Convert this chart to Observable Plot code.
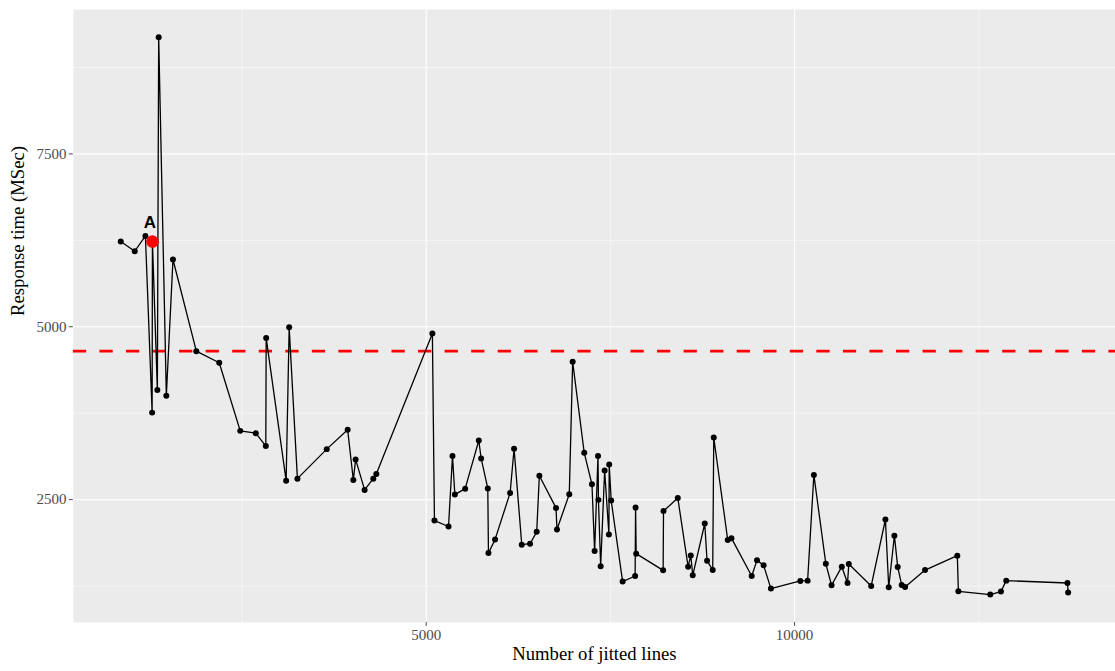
<!DOCTYPE html>
<html><head><meta charset="utf-8">
<script src="https://cdn.jsdelivr.net/npm/d3@7"></script>
<script src="https://cdn.jsdelivr.net/npm/@observablehq/plot@0.6"></script>
<style>
html,body{margin:0;padding:0;background:#fff;overflow:hidden;}
#chart svg{display:block;}
</style></head><body><div id="chart"></div>
<script>
// Number of jitted lines (x) and response time in ms (y)
const jittedLines = [854,1044,1189,1280,1284,1351,1369,1473,1563,1880,2191,2476,2687,2823,2828,3099,3140,3252,3650,3934,4011,4042,4164,4282,4323,5084,5112,5303,5357,5389,5529,5714,5746,5836,5845,5935,6139,6193,6297,6410,6500,6536,6762,6775,6942,6988,7145,7250,7286,7332,7338,7368,7422,7480,7484,7511,7666,7836,7842,7850,8216,8221,8415,8555,8591,8618,8781,8812,8889,8903,9093,9143,9418,9490,9580,9679,10078,10177,10262,10424,10502,10641,10719,10736,11040,11233,11278,11355,11400,11454,11500,11771,12209,12223,12656,12801,12873,13704,13713];
const responseMs = [6232,6092,6314,3758,6232,4085,9186,4003,5973,4647,4479,3494,3461,3274,4839,2774,4993,2803,3230,3509,2784,3081,2640,2803,2870,4902,2197,2111,3130,2572,2658,3355,3095,2662,1726,1924,2597,3235,1848,1862,2034,2846,2380,2068,2577,4493,3177,2721,1755,3130,2496,1535,2922,1996,3009,2486,1314,1395,2385,1718,1477,2334,2524,1530,1693,1405,2154,1617,1481,3398,1914,1942,1395,1621,1549,1213,1323,1328,2857,1573,1261,1530,1294,1568,1251,2212,1232,1977,1524,1265,1236,1481,1689,1174,1127,1170,1328,1294,1156];

// highlighted point
const highlightLabel = ["A"];
const highlightX = [1284];
const highlightY = [6232];

// mean response (dashed line)
const meanResponse = [4647];

// ticks
const xMajorTicks = [5000, 10000];
const xMinorTicks = [2500, 7500, 12500];
const yMajorTicks = [2500, 5000, 7500];
const yMinorTicks = [1250, 3750, 6250, 8750];

const xTitle = "Number of jitted lines";
const yTitle = "Response time (MSec)";

const series = jittedLines.map((x, i) => ({x, y: responseMs[i]}));
const highlight = highlightLabel.map((label, i) => ({label, x: highlightX[i], y: highlightY[i]}));

function padded(values) {
  const [a, b] = d3.extent(values);
  const p = 0.05 * (b - a);
  return [a - p, b + p];
}

const chart = Plot.plot({
  width: 1117,
  height: 671,
  marginLeft: 73,
  marginRight: 0,
  marginTop: 9,
  marginBottom: 48,
  x: {domain: padded(jittedLines)},
  y: {domain: padded(responseMs)},
  style: {fontFamily: "'Liberation Serif', 'Times New Roman', serif", fontSize: "15px", background: "white", overflow: "visible"},
  marks: [
    Plot.frame({fill: "#EBEBEB", stroke: "none"}),
    Plot.gridX({ticks: xMinorTicks, stroke: "white", strokeOpacity: 1, strokeWidth: 0.55}),
    Plot.gridY({ticks: yMinorTicks, stroke: "white", strokeOpacity: 1, strokeWidth: 0.55}),
    Plot.gridX({ticks: xMajorTicks, stroke: "white", strokeOpacity: 1, strokeWidth: 1.1}),
    Plot.gridY({ticks: yMajorTicks, stroke: "white", strokeOpacity: 1, strokeWidth: 1.1}),
    Plot.ruleY(meanResponse, {stroke: "red", strokeWidth: 2.9, strokeDasharray: "13.3,13.3"}),
    Plot.line(series, {x: "x", y: "y", stroke: "black", strokeWidth: 1.3}),
    Plot.dot(series, {x: "x", y: "y", r: 3, fill: "black"}),
    Plot.dot(highlight, {x: "x", y: "y", r: 6.3, fill: "red"}),
    Plot.text(highlight, {x: "x", y: "y", text: "label", dx: -2.5, dy: -14, lineAnchor: "bottom",
      fontFamily: "'Liberation Sans', Arial, sans-serif", fontWeight: "bold", fontSize: 17, fill: "black"}),
    Plot.axisX({ticks: xMajorTicks, tickFormat: d => String(d), tickSize: 4, tickPadding: 3, label: null, color: "#4D4D4D"}),
    Plot.axisY({ticks: yMajorTicks, tickFormat: d => String(d), tickSize: 4, tickPadding: 3, label: null, color: "#4D4D4D"}),
    Plot.text([xTitle], {text: d => d, frameAnchor: "bottom", dy: 38, fontSize: 18.7, fill: "black"}),
    Plot.text([yTitle], {text: d => d, frameAnchor: "left", dx: -55, rotate: -90, fontSize: 18.7, fill: "black"})
  ]
});
document.getElementById("chart").appendChild(chart);
</script>
</body></html>
